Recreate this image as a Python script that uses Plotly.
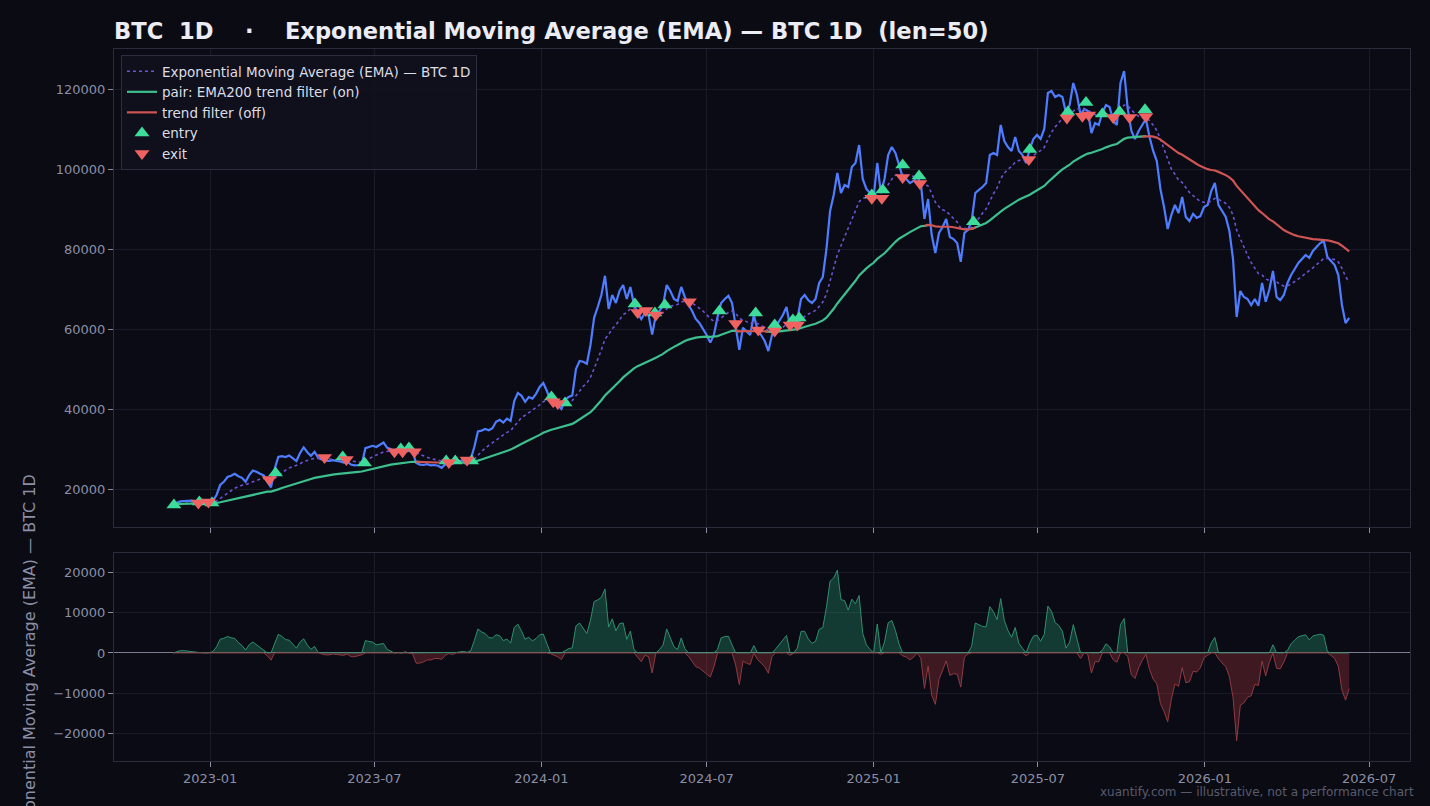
import numpy as np
import pandas as pd
import plotly.graph_objects as go

# ---------------- data ----------------
start_date = "2022-11-21"
step_days = 4
price = [
    16200, 16500, 16900, 17000, 17000, 17100, 16900, 16800, 16700, 16600,
    16700, 17100, 18500, 21000, 21800, 23000, 23300, 23800, 23200, 22800,
    21800, 23500, 24600, 24300, 23800, 23400, 21800, 20400, 25000, 28000,
    28200, 28000, 28400, 27800, 27000, 29000, 30400, 29200, 28300, 29300,
    27800, 27400, 27100, 27000, 27200, 27000, 26900, 26600, 26900, 26100,
    25900, 26000, 26200, 30200, 30600, 30800, 30500, 31000, 31600, 30300,
    30000, 29400, 29600, 29300, 29800, 29500, 29300, 26500, 26100, 26000,
    26200, 25900, 26000, 25800, 25300, 26200, 26600, 26300, 26800, 27000,
    27200, 27000, 27400, 30500, 34400, 34600, 35000, 34700, 35200, 36800,
    37300, 36600, 37600, 37000, 42000, 44000, 43300, 41800, 43000, 42600,
    43800, 45500, 46500, 44500, 42000, 41500, 41000, 40000, 42300, 43000,
    43400, 50000, 52000, 51800, 51300, 56000, 62800, 65500, 68500, 73300,
    65000, 68500, 66500, 69500, 71000, 67500, 70500, 66000, 64000, 62500,
    64000, 63500, 58600, 63500, 64500, 66000, 71000, 69500, 67500, 67000,
    70500, 68000, 66000, 64500, 62500, 61500, 60000, 58500, 56600, 58500,
    63000, 66500, 67500, 68300, 66500, 61000, 54800, 60300, 59300, 58500,
    63500, 59800, 58500, 57000, 54500, 58500, 60500, 62000, 63500, 65500,
    60500, 61000, 62500, 67500, 68500, 67200, 66500, 67500, 71500, 73000,
    80000, 89500, 93500, 99000, 94000, 96000, 95500, 100500, 101500, 106000,
    97500, 95000, 94000, 93000, 101500, 94000, 97500, 103500, 105500, 104000,
    101000, 98000, 97500, 96500, 97000, 98000, 96500, 87500, 92500, 83500,
    79000, 84000, 85500, 87500, 83000, 82500, 81500, 76800, 84000, 84800,
    87000, 94000, 94800, 95500, 96500, 103500, 104000, 103500, 111000, 107000,
    105500, 104500, 108000, 104500, 103500, 101500, 105000, 107500, 108500, 107500,
    110000, 119000, 119500, 118000, 118500, 118000, 114000, 116000, 121500, 118500,
    113500, 115000, 114500, 109000, 111500, 111000, 114000, 116000, 115500, 112000,
    111000, 121500, 124500, 115000, 109500, 107500, 109500, 111000, 112500, 108000,
    104500, 102000, 95000, 90500, 85000, 88500, 91000, 89000, 93000, 88000,
    87000, 88800, 87800, 88200, 90500, 91000, 94500, 96500, 91000, 89500,
    88000, 84500, 77500, 63000, 69500, 68000, 67500, 66000, 67500, 65800,
    71500, 66800, 69800, 74500, 68000, 67200, 68500, 71500, 73500, 75000,
    76500, 77500, 78500, 77800, 79500, 80500, 81500, 82000, 78000, 77000,
    76000, 73500, 66000, 61500, 62800,
]

ema_len = 50
ema_slow_len = 200

# periods where the EMA200 trend filter is "off"
off_periods = [
    ("2023-08-17", "2023-09-13"),
    ("2024-08-03", "2024-09-05"),
    ("2025-03-01", "2025-04-20"),
    ("2025-10-28", "2026-12-31"),
]

entry_dates = [
    "2022-11-22", "2022-12-20", "2023-01-03", "2023-03-14", "2023-05-27",
    "2023-06-20", "2023-07-30", "2023-08-08", "2023-09-18", "2023-09-28",
    "2023-10-16", "2024-01-12", "2024-01-27", "2024-04-13", "2024-05-05",
    "2024-05-16", "2024-07-15", "2024-08-24", "2024-09-14", "2024-10-04",
    "2024-10-11", "2024-12-30", "2025-01-11", "2025-02-02", "2025-02-20",
    "2025-04-21", "2025-06-22", "2025-08-03", "2025-08-23", "2025-09-10",
    "2025-09-29", "2025-10-27",
]
entry_prices = [
    16000, 16750, 16500, 24000, 28000,
    26500, 30000, 30250, 27000, 27000,
    27000, 43000, 41500, 66250, 64000,
    66000, 64500, 64000, 61000, 62250,
    62750, 93500, 94750, 101000, 98250,
    86800, 104900, 114250, 116600, 113750,
    114300, 114800,
]
exit_dates = [
    "2022-12-19", "2022-12-30", "2023-03-07", "2023-05-07", "2023-05-31",
    "2023-07-23", "2023-08-01", "2023-08-14", "2023-09-21", "2023-10-11",
    "2024-01-14", "2024-01-19", "2024-04-16", "2024-04-25", "2024-05-06",
    "2024-06-12", "2024-08-02", "2024-08-27", "2024-09-14", "2024-10-01",
    "2024-10-09", "2024-12-30", "2025-01-10", "2025-02-02", "2025-02-21",
    "2025-06-21", "2025-08-02", "2025-08-19", "2025-08-26", "2025-09-22",
    "2025-10-10", "2025-10-28",
]
exit_prices = [
    16500, 16750, 22400, 27900, 27400,
    29300, 29300, 29300, 26600, 27250,
    41800, 41400, 64100, 64600, 63500,
    66800, 61400, 59750, 59500, 61000,
    61000, 92700, 92700, 97900, 96400,
    102400, 112750, 113200, 113500, 112900,
    112900, 113100,
]

price_ticks = [20000, 40000, 60000, 80000, 100000, 120000]
osc_ticks = [-20000, -10000, 0, 10000, 20000]
date_ticks = ["2023-01-01", "2023-07-01", "2024-01-01", "2024-07-01",
              "2025-01-01", "2025-07-01", "2026-01-01", "2026-07-01"]

# ---------------- derived ----------------
dates = pd.date_range(start_date, periods=len(price), freq=f"{step_days}D")
p = np.array(price, dtype=float)


def ema(vals, length, step):
    a = 1 - (1 - 2 / (length + 1)) ** step
    out = [vals[0]]
    for v in vals[1:]:
        out.append(out[-1] + a * (v - out[-1]))
    return np.array(out)


ema_fast = ema(p, ema_len, step_days)
ema_slow = ema(p, ema_slow_len, step_days)
osc = p - ema_fast

off = np.zeros(len(dates), dtype=bool)
for a, b in off_periods:
    off |= (dates >= pd.Timestamp(a)) & (dates <= pd.Timestamp(b))
on = ~off
on_ext = on.copy()
off_ext = off.copy()
on_ext[1:] |= on[:-1]
on_ext[:-1] |= on[1:]
off_ext[1:] |= off[:-1]
off_ext[:-1] |= off[1:]
slow_on = [v if m else None for v, m in zip(ema_slow, on_ext)]
slow_off = [v if m else None for v, m in zip(ema_slow, off_ext)]

pos = np.where(osc > 0, osc, 0.0)
neg = np.where(osc < 0, osc, 0.0)

# ---------------- figure ----------------
BG = "#0b0b13"
GRID = "#1a1b28"
FRAME = "#2a2b3b"
TXT = "#8b8fa6"
FONT = "DejaVu Sans"

fig = go.Figure()

fig.add_trace(go.Scatter(x=dates, y=p, mode="lines", line=dict(color="#4f7dff", width=2.2),
                         showlegend=False, hoverinfo="skip", xaxis="x", yaxis="y"))
fig.add_trace(go.Scatter(x=dates, y=ema_fast, mode="lines",
                         line=dict(color="#6d52d6", width=1.6, dash="dot"),
                         name="Exponential Moving Average (EMA) — BTC 1D", xaxis="x", yaxis="y"))
fig.add_trace(go.Scatter(x=dates, y=slow_on, mode="lines", line=dict(color="#3dbf8e", width=2.2),
                         name="pair: EMA200 trend filter (on)", connectgaps=False, xaxis="x", yaxis="y"))
fig.add_trace(go.Scatter(x=dates, y=slow_off, mode="lines", line=dict(color="#cf5555", width=2.2),
                         name="trend filter (off)", connectgaps=False, xaxis="x", yaxis="y"))
fig.add_trace(go.Scatter(x=pd.to_datetime(entry_dates), y=entry_prices, mode="markers",
                         marker=dict(symbol="triangle-up", size=13, color="#3ddc9a"),
                         name="entry", xaxis="x", yaxis="y"))
fig.add_trace(go.Scatter(x=pd.to_datetime(exit_dates), y=exit_prices, mode="markers",
                         marker=dict(symbol="triangle-down", size=13, color="#ef6262"),
                         name="exit", xaxis="x", yaxis="y"))

fig.add_trace(go.Scatter(x=dates, y=pos, mode="lines", fill="tozeroy",
                         fillcolor="rgba(40,150,110,0.35)", line=dict(color="#2f8f6d", width=1),
                         showlegend=False, hoverinfo="skip", xaxis="x2", yaxis="y2"))
fig.add_trace(go.Scatter(x=dates, y=neg, mode="lines", fill="tozeroy",
                         fillcolor="rgba(150,50,55,0.38)", line=dict(color="#8e3a42", width=1),
                         showlegend=False, hoverinfo="skip", xaxis="x2", yaxis="y2"))

plot_top, plot_bot = 49, 761
H = 806
ph = plot_bot - plot_top
top_dom = [(plot_bot - 527) / ph, 1.0]
bot_dom = [0.0, (plot_bot - 553) / ph]

xcommon = dict(range=["2022-09-17", "2026-08-15"], tickvals=date_ticks, tickformat="%Y-%m",
               showgrid=True, gridcolor=GRID, gridwidth=1, zeroline=False,
               showline=True, linecolor=FRAME, mirror=True,
               ticks="outside", ticklen=5, tickcolor=TXT,
               tickfont=dict(family=FONT, size=13, color=TXT))

nb = "\u00a0"
title_text = ("<b>BTC" + nb * 2 + "1D" + nb * 4 + "·" + nb * 4 +
              "Exponential Moving Average (EMA) — BTC 1D" + nb * 2 + "(len=50)</b>")

fig.update_layout(
    width=1430, height=806,
    paper_bgcolor=BG, plot_bgcolor="#0a0b14",
    margin=dict(l=114, r=20, t=plot_top, b=H - plot_bot),
    font=dict(family=FONT, color=TXT),
    title=dict(text=title_text,
               x=114 / 1430, xref="container", xanchor="left",
               y=1 - 31 / 806, yref="container", yanchor="middle",
               font=dict(family=FONT, size=22.6, color="#ececf4")),
    xaxis=dict(domain=[0, 1], anchor="y", showticklabels=False, **xcommon),
    xaxis2=dict(domain=[0, 1], anchor="y2", matches="x", showticklabels=True, **xcommon),
    yaxis=dict(domain=top_dom, anchor="x", range=[10500, 130000], tickvals=price_ticks,
               tickformat="d", showgrid=True, gridcolor=GRID, zeroline=False,
               showline=True, linecolor=FRAME, mirror=True,
               ticks="outside", ticklen=5, tickcolor=TXT,
               tickfont=dict(family=FONT, size=13, color=TXT)),
    yaxis2=dict(domain=bot_dom, anchor="x2", range=[-26700, 24700], tickvals=osc_ticks,
                tickformat="d", showgrid=True, gridcolor=GRID,
                zeroline=True, zerolinecolor="#7c7f90", zerolinewidth=1.2,
                showline=True, linecolor=FRAME, mirror=True,
                ticks="outside", ticklen=5, tickcolor=TXT,
                tickfont=dict(family=FONT, size=13, color=TXT),
                title=dict(text="Exponential Moving Average (EMA) — BTC 1D", standoff=13,
                           font=dict(family=FONT, size=16, color=TXT))),
    legend=dict(x=(121 - 114) / 1296, y=(plot_bot - 55) / ph, xanchor="left", yanchor="top",
                bgcolor="rgba(16,17,29,0.92)", bordercolor="#2c2d3e", borderwidth=1,
                font=dict(family=FONT, size=13.5, color="#dcdde6"),
                tracegroupgap=0, itemwidth=30),
    showlegend=True,
    annotations=[dict(text="xuantify.com — illustrative, not a performance chart",
                      x=(1416 - 114) / 1296, y=(plot_bot - 792) / ph,
                      xref="paper", yref="paper",
                      xanchor="right", yanchor="middle", showarrow=False,
                      font=dict(family=FONT, size=12, color="#585b6e"))],
)

fig.write_html("out.html")
